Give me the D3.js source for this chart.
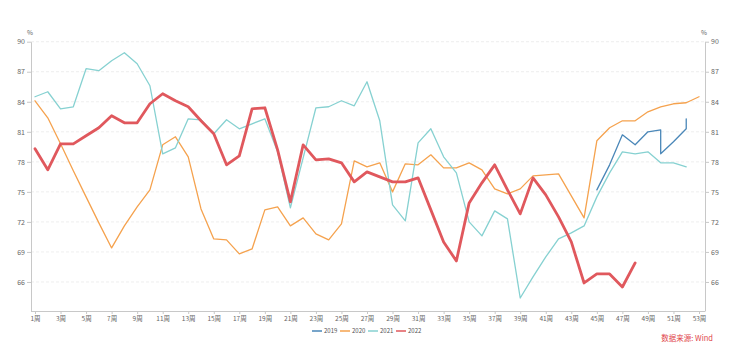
<!DOCTYPE html>
<html>
<head>
<meta charset="utf-8">
<script src="https://cdn.jsdelivr.net/npm/d3@7/dist/d3.min.js"></script>
<style>
  html, body { margin: 0; padding: 0; background: #fff; }
  svg { display: block; font-family: "Noto Sans CJK SC", "Noto Sans", sans-serif; }
</style>
</head>
<body>
<svg id="chart" width="733" height="355"></svg>
<script>
const weeks = d3.range(1, 54);
const xTickWeeks = d3.range(1, 54, 2);
const yTicks = [66, 69, 72, 75, 78, 81, 84, 87, 90];

const weeks2019 = [45, 46, 47, 48, 49, 50, 50, 51, 52, 52];
const values2019 = [75.2, 77.7, 80.7, 79.7, 81.0, 81.2, 78.8, 80.0, 81.3, 82.3];

const weeks2020 = d3.range(1, 54);
const values2020 = [84.1, 82.4, 79.8, 77.1, 74.5, 71.9, 69.4, 71.6, 73.5, 75.2,
  79.7, 80.5, 78.5, 73.3, 70.3, 70.2, 68.8, 69.3, 73.2, 73.5,
  71.6, 72.4, 70.8, 70.2, 71.8, 78.1, 77.5, 77.9, 75.0, 77.8,
  77.7, 78.7, 77.4, 77.4, 77.9, 77.2, 75.3, 74.8, 75.3, 76.6,
  76.7, 76.8, 74.6, 72.4, 80.1, 81.4, 82.1, 82.1, 83.0, 83.5,
  83.8, 83.9, 84.5];

const weeks2021 = d3.range(1, 53);
const values2021 = [84.5, 85.0, 83.3, 83.5, 87.3, 87.1, 88.1, 88.9, 87.8, 85.6,
  78.8, 79.4, 82.3, 82.2, 80.8, 82.2, 81.3, 81.8, 82.3, 79.0,
  73.4, 78.4, 83.4, 83.5, 84.1, 83.6, 86.0, 82.1, 73.7, 72.1,
  79.9, 81.3, 78.5, 76.9, 72.0, 70.6, 73.1, 72.3, 64.4, 66.5,
  68.5, 70.3, 70.9, 71.6, 74.5, 76.9, 79.0, 78.8, 79.0, 77.9,
  77.9, 77.5];

const weeks2022 = d3.range(1, 49);
const values2022 = [79.3, 77.2, 79.8, 79.8, 80.6, 81.4, 82.6, 81.9, 81.9, 83.8,
  84.8, 84.1, 83.5, 82.1, 80.8, 77.7, 78.6, 83.3, 83.4, 79.2,
  74.0, 79.7, 78.2, 78.3, 77.9, 76.0, 77.0, 76.5, 76.0, 76.0,
  76.4, 73.2, 70.0, 68.1, 73.9, 75.9, 77.7, 75.2, 72.8, 76.4,
  74.7, 72.5, 70.0, 65.9, 66.8, 66.8, 65.5, 67.9];

const seriesNames = ["2019", "2020", "2021", "2022"];
const seriesColors = ["#4a87b8", "#f5a24e", "#86d1d1", "#e0585d"];
const seriesWidths = [1.3, 1.3, 1.3, 2.8];
const seriesData = [
  [weeks2019, values2019], [weeks2020, values2020],
  [weeks2021, values2021], [weeks2022, values2022]
];

const svg = d3.select("#chart");
const padL = 31, padR = 705, padT = 41.7, padB = 311;

const x = d3.scalePoint().domain(weeks).range([35, 699]);
const y = d3.scaleLinear().domain([63.1, 90]).range([padB, padT]);

// grid
svg.append("g").selectAll("line").data(yTicks).join("line")
  .attr("x1", padL).attr("x2", padR)
  .attr("y1", d => y(d)).attr("y2", d => y(d))
  .attr("stroke", "#e6e6e6").attr("stroke-width", 0.7)
  .attr("stroke-dasharray", "3,2");

function styleAxis(g) {
  g.select(".domain").attr("stroke", "#c8c8c8");
  g.selectAll(".tick line").attr("stroke", "#c8c8c8");
  g.selectAll(".tick text").attr("fill", "#666")
    .style("font-family", "'Noto Sans CJK SC', 'Noto Sans', sans-serif");
}

// left axis
const yl = svg.append("g").attr("transform", `translate(${padL},0)`)
  .call(d3.axisLeft(y).tickValues(yTicks).tickSize(4).tickPadding(2).tickSizeOuter(0))
  .attr("font-size", 7);
styleAxis(yl);
// right axis
const yr = svg.append("g").attr("transform", `translate(${padR},0)`)
  .call(d3.axisRight(y).tickValues(yTicks).tickSize(4).tickPadding(2).tickSizeOuter(0))
  .attr("font-size", 7);
styleAxis(yr);
// x axis
const xa = svg.append("g").attr("transform", `translate(0,${padB})`)
  .call(d3.axisBottom(x).tickValues(xTickWeeks).tickFormat(d => d + "周").tickSize(3).tickPadding(2).tickSizeOuter(0))
  .attr("font-size", 6.5);
styleAxis(xa);
xa.select(".domain").attr("d", `M${padL},0.5H${padR}`);

// unit labels
svg.append("text").attr("x", 30).attr("y", 35).attr("text-anchor", "middle")
  .attr("font-size", 6.5).attr("fill", "#666").text("%");
svg.append("text").attr("x", 704).attr("y", 35).attr("text-anchor", "middle")
  .attr("font-size", 6.5).attr("fill", "#666").text("%");

// lines
const line = d3.line().x(d => x(d[0])).y(d => y(d[1]));
seriesData.forEach(([w, v], i) => {
  const pts = w.map((wk, j) => [wk, v[j]]);
  svg.append("path").datum(pts)
    .attr("d", line)
    .attr("fill", "none")
    .attr("stroke", seriesColors[i])
    .attr("stroke-width", seriesWidths[i])
    .attr("stroke-linejoin", "round")
    .attr("stroke-linecap", "round");
});

// legend
const legend = svg.append("g");
const legStart = 312, legStep = 28, legY = 331;
seriesNames.forEach((name, i) => {
  const gx = legStart + i * legStep;
  legend.append("line").attr("x1", gx).attr("x2", gx + 10)
    .attr("y1", legY).attr("y2", legY)
    .attr("stroke", seriesColors[i]).attr("stroke-width", 1.5);
  legend.append("text").attr("x", gx + 12).attr("y", legY + 2.2)
    .attr("font-size", 6).attr("fill", "#555").text(name);
});

// source
svg.append("text").attr("x", 713).attr("y", 341).attr("text-anchor", "end")
  .attr("font-size", 7.5).attr("fill", "#e0454a").text("数据来源: Wind");
</script>
</body>
</html>
